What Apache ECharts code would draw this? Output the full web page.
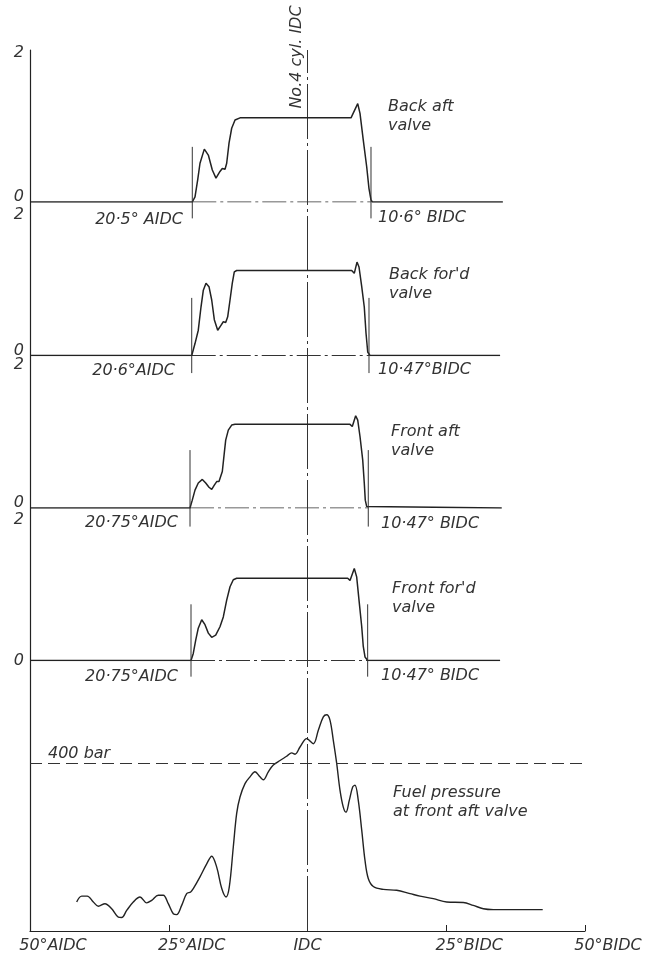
<!DOCTYPE html>
<html>
<head>
<meta charset="utf-8">
<script src="https://cdn.jsdelivr.net/npm/echarts@6/dist/echarts.min.js"></script>
<style>
html,body{margin:0;padding:0;background:#fff}
#main{width:655px;height:958px}
</style>
</head>
<body>
<div id="main"></div>
<script>
// crank angle in degrees: negative = AIDC, positive = BIDC
var xTicks = [-50, -25, 0, 25, 50];
var xTickLabels = ['50°AIDC', '25°AIDC', 'IDC', '25°BIDC', '50°BIDC'];

// needle lift, 0..2 scale
var backAft = [[-50,0],[-20.76,0],[-20.27,0.07],[-19.78,0.30],[-19.37,0.52],[-18.59,0.71],[-17.87,0.63],[-17.15,0.43],
  [-16.49,0.32],[-15.77,0.41],[-15.35,0.45],[-14.86,0.44],[-14.56,0.52],[-14.14,0.79],[-13.66,0.99],[-13.06,1.10],
  [-12.16,1.13],[7.84,1.13],[8.14,1.11],[9.05,1.32],[9.46,1.19],[10.05,0.83],[10.67,0.47],[11.08,0.18],[11.44,0.03],
  [11.68,0],[35.2,0]];
var backFord = [[-50,0],[-20.86,0],[-20.27,0.17],[-19.68,0.36],[-19.19,0.69],[-18.77,0.93],[-18.29,1.03],[-17.75,0.98],
  [-17.26,0.79],[-16.79,0.51],[-16.18,0.36],[-15.59,0.43],[-15.17,0.48],[-14.74,0.47],[-14.38,0.55],[-13.96,0.79],
  [-13.55,1.03],[-13.19,1.19],[-12.76,1.21],[7.96,1.21],[8.43,1.17],[8.92,1.33],[9.28,1.26],[9.77,0.98],[10.23,0.69],
  [10.54,0.32],[10.85,0.05],[11.26,0],[34.7,0]];
var frontAft = [[-50,0],[-21.17,0],[-20.76,0.11],[-20.27,0.25],[-19.68,0.35],[-18.95,0.40],[-18.34,0.35],[-17.75,0.29],
  [-17.26,0.26],[-16.79,0.32],[-16.36,0.37],[-15.95,0.37],[-15.59,0.39],[-15.35,0.51],[-14.99,0.77],[-14.74,0.95],
  [-14.27,1.09],[-13.66,1.16],[-13.06,1.17],[7.66,1.17],[8.07,1.14],[8.68,1.29],[9.05,1.23],[9.46,1.00],[9.95,0.67],
  [10.23,0.35],[10.41,0.11],[10.67,0.02],[10.95,0],[35.0,0]];
var frontFord = [[-50,0],[-20.99,0],[-20.58,0.10],[-20.14,0.29],[-19.68,0.46],[-19.06,0.58],[-18.47,0.51],[-17.87,0.39],
  [-17.26,0.33],[-16.54,0.36],[-15.77,0.48],[-15.17,0.62],[-14.56,0.86],[-13.96,1.05],[-13.37,1.15],[-12.76,1.17],
  [7.24,1.17],[7.66,1.14],[8.43,1.31],[8.86,1.19],[9.28,0.86],[9.77,0.48],[10.05,0.20],[10.36,0.05],[10.85,0],[34.7,0]];

// lift start / end markers
var liftStart = [-20.76, -20.86, -21.17, -20.99];
var liftEnd = [11.44, 11.08, 10.95, 10.84];
var markTop = [0.74, 0.82, 0.81, 0.80];
var markBottom = [-0.22, -0.25, -0.26, -0.23];
var startLabels = ['20·5° AIDC', '20·6°AIDC', '20·75°AIDC', '20·75°AIDC'];
var endLabels = ['10·6° BIDC', '10·47°BIDC', '10·47° BIDC', '10·47° BIDC'];
var valveNames = ['Back aft\nvalve', "Back for'd\nvalve", 'Front aft\nvalve', "Front for'd\nvalve"];

// fuel pressure, bar
var fuelPressure = [[-41.59,69],[-40.68,83],[-39.68,83],[-38.59,69],[-37.69,59],[-36.49,65],[-35.28,53],[-34.09,33],
  [-33.48,32],[-32.58,49],[-31.39,69],[-30.18,81],[-28.98,67],[-28.07,73],[-26.88,85],[-25.98,85],[-25.08,65],
  [-24.18,41],[-23.57,39],[-22.67,61],[-21.77,89],[-21.05,93],[-20.58,101],[-19.37,129],[-18.16,160],[-17.26,178],
  [-16.36,152],[-15.45,101],[-14.68,81],[-14.09,105],[-13.37,200],[-12.76,280],[-12.16,319],[-11.26,351],[-10.36,367],
  [-9.46,379],[-8.56,367],[-7.96,360],[-7.06,379],[-6.16,395],[-4.95,406],[-3.75,416],[-2.85,424],[-2.25,421],
  [-1.35,438],[-0.14,458],[1.05,446],[1.95,478],[2.85,510],[3.46,515],[4.05,502],[4.65,454],[5.26,399],[5.86,335],
  [6.45,295],[6.94,283],[7.53,311],[8.14,343],[8.56,347],[9.15,311],[9.77,240],[10.36,168],[10.95,125],[11.86,106],
  [13.66,99],[16.07,97],[18.47,89],[20.27,83],[22.67,77],[25.08,69],[28.07,68],[29.87,61],[31.68,53],[33.48,51],
  [37.69,51],[42.38,51]];
var refPressure = 400;
var idcLine = [[0, 0], [0, 1]];

var ink = '#222';
var font = 'DejaVu Sans';
var myChart = echarts.init(document.getElementById('main'));

var L = 30, R = 70;
var panelBoxes = [[53, 149], [215, 140.5], [365, 143], [520, 140.5]];
var grids = [{left: L, right: R, top: 50, bottom: 27}];
panelBoxes.forEach(function (b) {
	grids.push({left: L, right: R, top: b[0], height: b[1]});
});
grids.push({left: L, right: R, top: 679, bottom: 27});

var xAxes = [], yAxes = [];
grids.forEach(function (g, i) {
	xAxes.push({
		type: 'value', gridIndex: i, min: -50, max: 50, interval: 25,
		show: i === 0,
		axisLine: {show: true, onZero: false, lineStyle: {color: ink, width: 1.2}},
		axisTick: {show: true, inside: true, length: 6, lineStyle: {color: ink}},
		splitLine: {show: false},
		axisLabel: {
			margin: 7, fontSize: 16, fontFamily: font, fontStyle: 'italic', color: '#333',
			formatter: function (v) {
				var k = xTicks.indexOf(v);
				if (k < 0) return '';
				return v === 0 ? '{c|' + xTickLabels[k] + '}' : '{s|' + xTickLabels[k] + '}';
			},
			rich: {c: {}, s: {padding: [0, 0, 0, 46]}}
		}
	});
});
// frame y axis (continuous left line)
yAxes.push({type: 'value', gridIndex: 0, min: 0, max: 1,
	axisLine: {show: true, onZero: false, lineStyle: {color: ink, width: 1.2}},
	axisTick: {show: false}, axisLabel: {show: false}, splitLine: {show: false}});
for (var p = 0; p < 4; p++) {
	yAxes.push({
		type: 'value', gridIndex: p + 1, min: 0, max: 2, interval: 2,
		axisLine: {show: false, onZero: false}, axisTick: {show: false}, splitLine: {show: false},
		axisLabel: {
			margin: 6, fontSize: 16, fontFamily: font, fontStyle: 'italic', color: '#333',
			formatter: function (v) { return v === 0 ? '{z|0}' : '{t|2}'; },
			rich: {z: {padding: p < 3 ? [0, 0, 10, 0] : [0, 0, 0, 0]}, t: {}}
		}
	});
}
yAxes.push({type: 'value', gridIndex: 5, min: 0, max: 600, show: false});

var series = [{
	type: 'line', xAxisIndex: 0, yAxisIndex: 0, data: idcLine, symbol: 'none', silent: true,
	lineStyle: {color: '#333', width: 1, type: [55, 4, 3, 4]}
}];
var traces = [backAft, backFord, frontAft, frontFord];
traces.forEach(function (d, p) {
	var ax = p + 1;
	series.push({
		type: 'line', xAxisIndex: ax, yAxisIndex: ax, data: d, symbol: 'none', silent: true,
		lineStyle: {color: ink, width: 1.5}
	});
	series.push({
		type: 'line', xAxisIndex: ax, yAxisIndex: ax, data: [[liftStart[p], 0], [liftEnd[p], 0]],
		symbol: 'none', silent: true, z: 1,
		lineStyle: {color: '#333', width: 1, type: [24, 4, 3, 4]}
	});
	[liftStart[p], liftEnd[p]].forEach(function (x) {
		series.push({
			type: 'line', xAxisIndex: ax, yAxisIndex: ax, clip: false, symbol: 'none', silent: true,
			data: [[x, markTop[p]], [x, markBottom[p]]],
			lineStyle: {color: '#333', width: 1}
		});
	});
});
series.push({
	type: 'line', xAxisIndex: 5, yAxisIndex: 5, data: fuelPressure, symbol: 'none', silent: true,
	smooth: 0.35, lineStyle: {color: ink, width: 1.4},
	markLine: {
		silent: true, symbol: 'none', label: {show: false},
		lineStyle: {color: '#333', width: 1, type: [12, 6]},
		data: [{yAxis: refPressure}]
	}
});

function txt(x, y, text, align, extra) {
	var o = {
		type: 'text', x: x, y: y, silent: true,
		style: {text: text, fill: '#333', fontSize: 16, fontFamily: font, fontStyle: 'italic',
			align: align || 'left', verticalAlign: 'middle', lineHeight: 19}
	};
	if (extra) for (var k in extra) o[k] = extra[k];
	return o;
}
var graphics = [];
graphics.push(txt(297, 57, 'No.4 cyl. IDC', 'center', {rotation: Math.PI / 2}));
var nameY = [116, 284, 441, 598];
var nameX = [388, 389, 391, 392];
var startX = [183, 175, 178, 178], startY = [220, 371, 523, 677];
var endX = [378, 378, 381, 381], endY = [218, 370, 524, 676];
for (var q = 0; q < 4; q++) {
	graphics.push(txt(nameX[q], nameY[q], valveNames[q], 'left'));
	graphics.push(txt(startX[q], startY[q], startLabels[q], 'right'));
	graphics.push(txt(endX[q], endY[q], endLabels[q], 'left'));
}
graphics.push(txt(393, 802, 'Fuel pressure\nat front aft valve', 'left'));
graphics.push(txt(48, 754, '400 bar', 'left'));

var option = {
	backgroundColor: '#fff',
	animation: false,
	grid: grids,
	xAxis: xAxes,
	yAxis: yAxes,
	series: series,
	graphic: graphics
};
myChart.setOption(option);
window.onresize = function () {
	myChart.resize();
};
</script>
</body>
</html>
